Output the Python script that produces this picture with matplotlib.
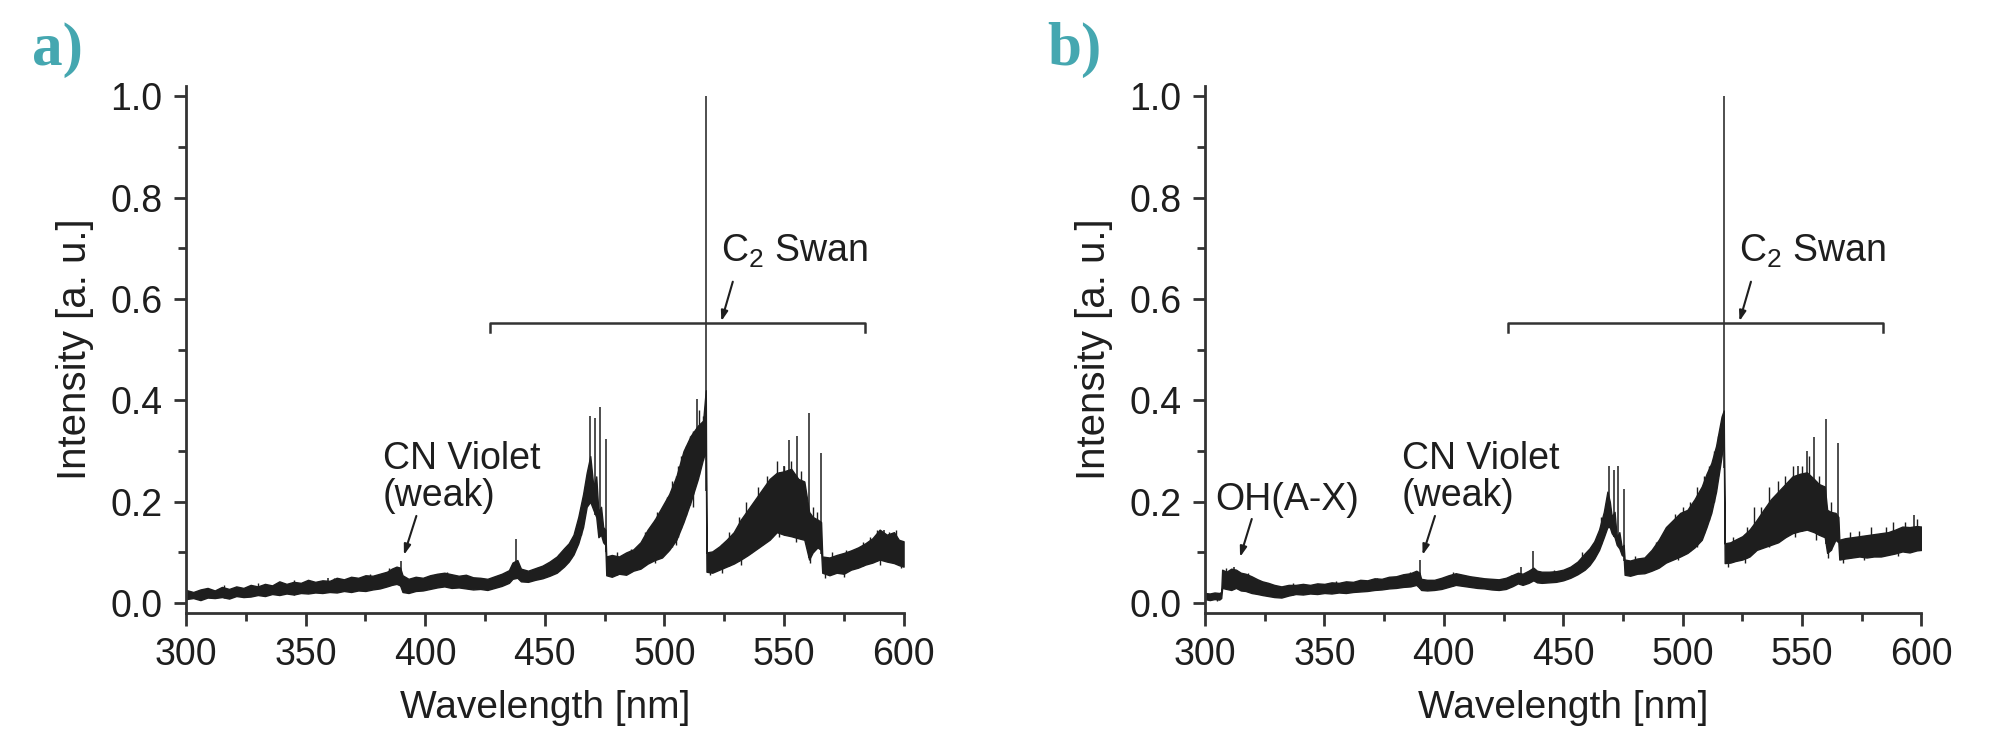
import numpy as np
import matplotlib
matplotlib.use("Agg")
import matplotlib.pyplot as plt

plt.rcParams['font.family'] = ['Liberation Sans', 'DejaVu Sans']
plt.rcParams['mathtext.fontset'] = 'custom'
plt.rcParams['mathtext.rm'] = 'Liberation Sans'
plt.rcParams['mathtext.it'] = 'Liberation Sans'

# ---- panel a: spectrum envelope (wavelength, lower, upper)
wl_a = [300, 303, 306, 309, 312, 315, 318, 321, 324, 327, 330, 333, 336, 339, 342, 345,
        348, 351, 354, 357, 360, 363, 366, 369, 372, 375, 378, 381, 384, 386, 388, 389.5,
        390.5, 393, 396, 399, 402, 405, 408, 411, 414, 417, 420, 423, 426, 429, 432, 435,
        436.5, 438.5, 440, 443, 446, 449, 452, 455, 458, 460, 462, 464, 466, 467.5, 469,
        470.3, 471.5, 472.4, 473.5, 474.4, 475.3, 475.7, 478, 481, 484, 487, 490, 493, 496,
        499, 502, 505, 508, 511, 514, 516.2, 517.3, 517.6, 520, 523, 526, 529, 532, 535,
        538, 541, 544, 547, 550, 553, 556, 558.5, 560.5, 562, 564, 565.5, 566, 569, 572,
        575, 578, 581, 584, 587, 590, 593, 596, 598, 600]
lo_a = [0.008, 0.010, 0.006, 0.011, 0.010, 0.012, 0.009, 0.014, 0.012, 0.013, 0.016, 0.014,
        0.018, 0.016, 0.019, 0.017, 0.020, 0.019, 0.021, 0.020, 0.022, 0.021, 0.024, 0.022,
        0.025, 0.024, 0.027, 0.029, 0.033, 0.036, 0.038, 0.035, 0.022, 0.020, 0.024, 0.025,
        0.028, 0.031, 0.033, 0.030, 0.031, 0.029, 0.027, 0.028, 0.026, 0.030, 0.034, 0.040,
        0.048, 0.050, 0.043, 0.042, 0.046, 0.049, 0.054, 0.060, 0.072, 0.082, 0.096, 0.118,
        0.150, 0.190, 0.200, 0.184, 0.170, 0.130, 0.135, 0.120, 0.115, 0.055, 0.052, 0.058,
        0.056, 0.064, 0.068, 0.078, 0.085, 0.090, 0.105, 0.125, 0.160, 0.200, 0.245, 0.285,
        0.300, 0.062, 0.060, 0.066, 0.072, 0.078, 0.086, 0.095, 0.105, 0.115, 0.125, 0.140,
        0.135, 0.132, 0.128, 0.125, 0.086, 0.100, 0.110, 0.105, 0.060, 0.055, 0.060, 0.058,
        0.066, 0.070, 0.076, 0.080, 0.086, 0.082, 0.079, 0.075, 0.072]
hi_a = [0.026, 0.022, 0.027, 0.030, 0.025, 0.032, 0.028, 0.033, 0.030, 0.036, 0.033, 0.038,
        0.035, 0.043, 0.038, 0.042, 0.040, 0.046, 0.042, 0.045, 0.044, 0.050, 0.047, 0.052,
        0.050, 0.055, 0.054, 0.058, 0.062, 0.068, 0.072, 0.070, 0.055, 0.048, 0.052, 0.050,
        0.055, 0.058, 0.060, 0.057, 0.054, 0.056, 0.051, 0.050, 0.048, 0.053, 0.058, 0.065,
        0.080, 0.085, 0.068, 0.064, 0.069, 0.074, 0.082, 0.092, 0.108, 0.118, 0.135, 0.170,
        0.215, 0.257, 0.290, 0.230, 0.250, 0.180, 0.190, 0.150, 0.145, 0.092, 0.095, 0.092,
        0.100, 0.106, 0.120, 0.145, 0.165, 0.190, 0.215, 0.250, 0.300, 0.330, 0.350, 0.360,
        0.420, 0.100, 0.102, 0.112, 0.125, 0.140, 0.165, 0.185, 0.205, 0.225, 0.245, 0.257,
        0.260, 0.265, 0.245, 0.240, 0.180, 0.170, 0.165, 0.160, 0.092, 0.090, 0.095, 0.099,
        0.104, 0.110, 0.118, 0.128, 0.145, 0.135, 0.140, 0.125, 0.122]
spike_wl_a = [359.5, 389.8, 437.9, 469.1, 471.1, 473.0, 475.4, 513.5, 517.4, 549.8, 552.3,
              555.3, 560.3, 565.6, 592.0]
spike_top_a = [0.049, 0.084, 0.127, 0.370, 0.365, 0.386, 0.324, 0.403, 1.0, 0.270, 0.322,
               0.330, 0.375, 0.297, 0.145]
# noise strokes poking above / below the band
grass_wl_a = [316, 330, 345, 362, 377, 385, 409, 447, 456, 461, 465, 480, 486, 492, 497,
              501, 503, 505.5, 507, 509, 510.5, 512, 514.5, 516, 527, 531, 534, 536, 539,
              541, 543, 545, 547, 550, 553, 557, 562, 564, 570, 576, 583, 586, 589, 591,
              594, 597]
grass_top_a = [0.036, 0.040, 0.046, 0.050, 0.058, 0.070, 0.062, 0.072, 0.096, 0.125, 0.190,
               0.100, 0.107, 0.140, 0.180, 0.210, 0.240, 0.270, 0.290, 0.310, 0.330, 0.340,
               0.380, 0.370, 0.140, 0.170, 0.200, 0.190, 0.230, 0.220, 0.250, 0.240, 0.280,
               0.270, 0.280, 0.260, 0.190, 0.180, 0.100, 0.105, 0.120, 0.130, 0.145, 0.140,
               0.140, 0.145]
dip_wl_a = [496, 505, 512, 519, 524, 532, 548, 555, 561, 567, 575, 590, 599]
dip_bot_a = [0.080, 0.115, 0.190, 0.055, 0.060, 0.075, 0.130, 0.120, 0.080, 0.050, 0.052,
             0.075, 0.070]

# ---- panel b
wl_b = [300, 302, 304, 306, 306.8, 307.2, 309, 311, 313, 315, 317, 319.5, 322, 324, 326.5,
        329, 332, 335, 338, 341, 344, 347, 350, 353, 356, 359, 362, 365, 368, 371, 374, 377,
        380, 383, 386, 388.5, 389.8, 390.5, 393, 396, 399, 402, 405, 408, 411, 414, 417, 420,
        423, 426, 429, 431, 433, 435.5, 437.5, 439, 441, 444, 447, 450, 453, 456, 459, 461,
        463, 465, 467, 468.5, 469.5, 470.3, 471.5, 472.4, 473.5, 474.5, 475.3, 475.7, 478,
        481, 484, 487, 490, 493, 496, 499, 502, 505, 508, 510, 512, 514, 516.3, 517.2, 517.6,
        520, 522, 525, 528, 531, 534, 537, 540, 543, 546, 549, 552, 555, 557, 559.5, 560.5,
        562, 564, 565.2, 565.6, 568, 571, 574, 577, 580, 583, 586, 589, 592, 595, 598, 600]
lo_b = [0.008, 0.006, 0.008, 0.007, 0.010, 0.030, 0.028, 0.026, 0.030, 0.025, 0.024, 0.020,
        0.018, 0.016, 0.014, 0.012, 0.011, 0.015, 0.018, 0.017, 0.019, 0.018, 0.020, 0.019,
        0.021, 0.020, 0.022, 0.023, 0.024, 0.026, 0.027, 0.029, 0.030, 0.032, 0.033, 0.036,
        0.030, 0.026, 0.025, 0.026, 0.028, 0.032, 0.036, 0.034, 0.032, 0.030, 0.029, 0.027,
        0.026, 0.028, 0.034, 0.039, 0.036, 0.040, 0.045, 0.041, 0.040, 0.041, 0.042, 0.045,
        0.050, 0.057, 0.066, 0.075, 0.088, 0.105, 0.130, 0.150, 0.150, 0.138, 0.130, 0.115,
        0.108, 0.095, 0.092, 0.056, 0.054, 0.058, 0.059, 0.064, 0.070, 0.080, 0.086, 0.092,
        0.099, 0.110, 0.125, 0.150, 0.178, 0.220, 0.290, 0.330, 0.079, 0.080, 0.083, 0.086,
        0.092, 0.105, 0.110, 0.115, 0.120, 0.130, 0.138, 0.142, 0.145, 0.140, 0.135, 0.130,
        0.099, 0.105, 0.125, 0.120, 0.086, 0.088, 0.090, 0.092, 0.090, 0.092, 0.092, 0.095,
        0.098, 0.102, 0.100, 0.104, 0.105]
hi_b = [0.020, 0.019, 0.021, 0.020, 0.022, 0.066, 0.062, 0.068, 0.066, 0.060, 0.058, 0.053,
        0.047, 0.043, 0.040, 0.036, 0.033, 0.036, 0.036, 0.038, 0.036, 0.039, 0.038, 0.041,
        0.040, 0.043, 0.042, 0.046, 0.045, 0.049, 0.048, 0.052, 0.053, 0.057, 0.059, 0.064,
        0.060, 0.048, 0.046, 0.046, 0.050, 0.055, 0.059, 0.056, 0.053, 0.051, 0.049, 0.048,
        0.047, 0.050, 0.056, 0.060, 0.058, 0.064, 0.070, 0.064, 0.062, 0.062, 0.063, 0.066,
        0.072, 0.082, 0.098, 0.108, 0.122, 0.145, 0.180, 0.220, 0.200, 0.171, 0.180, 0.130,
        0.140, 0.110, 0.115, 0.086, 0.084, 0.088, 0.090, 0.105, 0.125, 0.150, 0.164, 0.178,
        0.184, 0.205, 0.230, 0.255, 0.276, 0.310, 0.368, 0.380, 0.118, 0.120, 0.125, 0.132,
        0.145, 0.164, 0.185, 0.205, 0.220, 0.235, 0.250, 0.255, 0.258, 0.245, 0.235, 0.230,
        0.184, 0.180, 0.178, 0.170, 0.125, 0.128, 0.130, 0.132, 0.134, 0.136, 0.138, 0.140,
        0.145, 0.151, 0.150, 0.152, 0.151]
spike_wl_b = [312.0, 390.0, 432.3, 437.5, 469.2, 471.3, 472.9, 475.4, 517.3, 548.5, 551.9,
              555.0, 559.9, 565.1, 596.7]
spike_top_b = [0.072, 0.086, 0.072, 0.102, 0.271, 0.263, 0.270, 0.225, 1.0, 0.270, 0.300,
               0.328, 0.364, 0.316, 0.174]
grass_wl_b = [309, 314, 318, 337, 355, 372, 386, 404, 428, 446, 458, 466, 480, 489, 497,
              500, 503, 506, 509, 511, 513, 515, 521, 527, 530, 533, 536, 540, 543, 546,
              550, 553, 557, 562, 570, 574, 579, 585, 588, 593, 598]
grass_top_b = [0.070, 0.064, 0.060, 0.040, 0.044, 0.050, 0.062, 0.062, 0.056, 0.066, 0.100,
               0.170, 0.092, 0.120, 0.175, 0.190, 0.200, 0.230, 0.250, 0.270, 0.300, 0.330,
               0.130, 0.150, 0.190, 0.190, 0.230, 0.240, 0.250, 0.270, 0.270, 0.290, 0.250,
               0.200, 0.140, 0.142, 0.150, 0.150, 0.160, 0.160, 0.165]
dip_wl_b = [305, 498, 506, 519, 526, 536, 547, 556, 561, 567, 576, 590]
dip_bot_b = [0.004, 0.085, 0.110, 0.072, 0.080, 0.110, 0.130, 0.125, 0.090, 0.080, 0.085,
             0.092]

panels = [
    dict(label='a)', wl=wl_a, lo=lo_a, hi=hi_a, sw=spike_wl_a, st=spike_top_a,
         gw=grass_wl_a, gt=grass_top_a, dw=dip_wl_a, db=dip_bot_a,
         rect=[0.0934, 0.1656, 0.3602, 0.7174], lab_x=0.016),
    dict(label='b)', wl=wl_b, lo=lo_b, hi=hi_b, sw=spike_wl_b, st=spike_top_b,
         gw=grass_wl_b, gt=grass_top_b, dw=dip_wl_b, db=dip_bot_b,
         rect=[0.6049, 0.1656, 0.3597, 0.7174], lab_x=0.5256),
]

ink = '#1e1e1e'
fs = 27

fig = plt.figure(figsize=(19.92, 7.35), dpi=100)

for i, p in enumerate(panels):
    ax = fig.add_axes(p['rect'])
    wl = np.array(p['wl'])
    lo = np.array(p['lo'])
    hi = np.array(p['hi'])
    ax.fill_between(wl, lo, hi, color=ink, lw=1.0, edgecolor=ink)
    base = np.interp(p['sw'], wl, lo)
    ax.vlines(p['sw'], base, p['st'], color=ink, lw=1.1)
    # hairy texture of the noisy band
    gbase = np.interp(p['gw'], wl, lo)
    ax.vlines(p['gw'], gbase, p['gt'], color=ink, lw=1.0)
    dtop = np.interp(p['dw'], wl, hi)
    ax.vlines(p['dw'], p['db'], dtop, color=ink, lw=1.0)

    ax.set_xlim(300, 600)
    ax.set_ylim(-0.02, 1.02)
    ax.set_xticks(np.arange(300, 601, 50))
    ax.set_xticks(np.arange(325, 600, 50), minor=True)
    ax.set_yticks(np.arange(0, 1.01, 0.2))
    ax.set_yticks(np.arange(0.1, 1.0, 0.2), minor=True)
    ax.set_yticklabels(['0.0', '0.2', '0.4', '0.6', '0.8', '1.0'])
    for s in ['top', 'right']:
        ax.spines[s].set_visible(False)
    for s in ['left', 'bottom']:
        ax.spines[s].set_linewidth(2)
        ax.spines[s].set_color('#333333')
    ax.tick_params(which='major', direction='out', length=9, width=2, color='#333333',
                   labelsize=fs, labelcolor=ink, pad=8)
    ax.tick_params(which='minor', direction='out', length=6, width=2, color='#333333')
    ax.set_xlabel('Wavelength [nm]', fontsize=28, color=ink, labelpad=12)
    ax.set_ylabel('Intensity [a. u.]', fontsize=29, color=ink, labelpad=12)

    # C2 Swan bracket
    br_y, br_drop, br_x0, br_x1 = 0.553, 0.019, 427, 584
    ax.plot([br_x0, br_x0, br_x1, br_x1], [br_y - br_drop, br_y, br_y, br_y - br_drop],
            color='#333333', lw=1.8)
    arrow = dict(arrowstyle='-|>,head_length=0.6,head_width=0.2', color=ink, lw=1.5,
                 shrinkA=0, shrinkB=0)
    ax.annotate('', xy=(523.8, 0.556), xytext=(528.6, 0.634), arrowprops=arrow)
    ax.text(523.6, 0.673, 'C$_\\mathrm{2}$ Swan', fontsize=fs, color=ink, va='baseline')

    ax.text(382.3, 0.176, 'CN Violet\n(weak)', fontsize=fs, color=ink, va='bottom',
            linespacing=1.05)
    ax.annotate('', xy=(391.1, 0.095), xytext=(396.3, 0.172), arrowprops=arrow)

    if i == 1:
        ax.text(304.2, 0.184, 'OH(A-X)', fontsize=fs, color=ink, va='baseline')
        ax.annotate('', xy=(314.7, 0.091), xytext=(319.6, 0.166), arrowprops=arrow)

    fig.text(p['lab_x'], 0.9116, p['label'], fontsize=44, fontweight='bold',
             family='Liberation Serif', color='#45a7b0', va='baseline')

fig.savefig('out.png', dpi=100)
